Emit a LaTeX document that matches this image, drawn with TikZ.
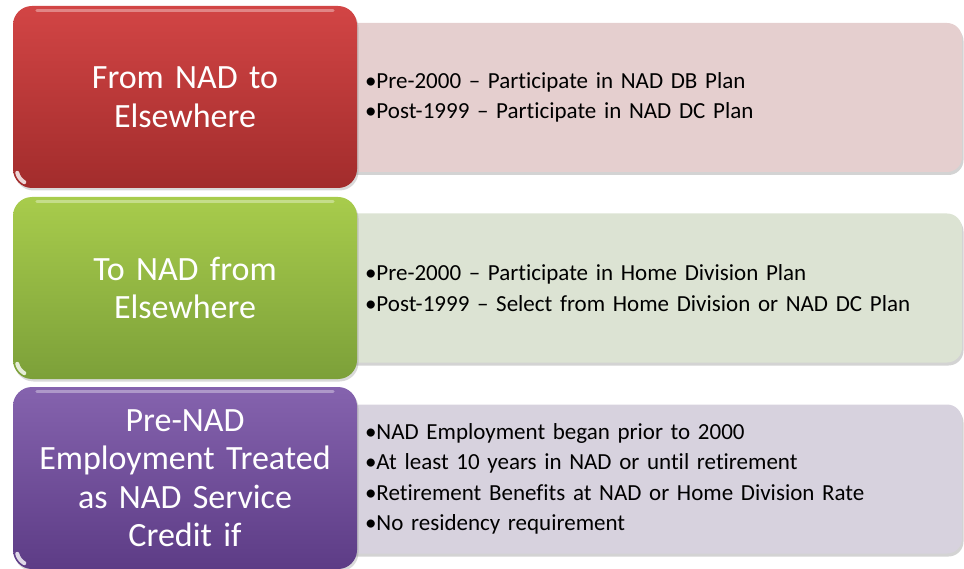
\documentclass[tikz,border=0pt]{standalone}
\usepackage{fontspec}
\setmainfont{Carlito}[Ligatures=NoCommon]
\usetikzlibrary{shadows,calc}
\definecolor{redtop}{HTML}{D24545}
\definecolor{redbot}{HTML}{A22C2C}
\definecolor{grntop}{HTML}{A8CC4C}
\definecolor{grnbot}{HTML}{7CA039}
\definecolor{purtop}{HTML}{8563AE}
\definecolor{purbot}{HTML}{5D3C86}
\definecolor{redlt}{HTML}{E5CFCF}
\definecolor{grnlt}{HTML}{DCE3D3}
\definecolor{purlt}{HTML}{D7D2DE}
\tikzset{
  headbox/.style={rectangle, rounded corners=19pt, minimum width=344pt, minimum height=182pt,
    text width=330pt, align=center, text=white, inner sep=0pt,
    font=\fontsize{34}{38.5}\selectfont,
    drop shadow={shadow xshift=1.5pt, shadow yshift=-2.5pt, opacity=.3}},
  infobox/.style={rectangle, rounded corners=15pt, minimum width=622pt, minimum height=149pt,
    text width=572pt, align=left, inner xsep=25pt, inner ysep=0pt, text=black,
    font=\fontsize{23}{30.5}\selectfont,
    drop shadow={shadow xshift=1.5pt, shadow yshift=-3pt, opacity=.35}},
  gloss/.style={white, opacity=.35, line width=3pt, line cap=round},
  cornergloss/.style={white, opacity=.8, line width=4pt, line cap=round}
}
\begin{document}
\begin{tikzpicture}[x=1pt,y=-1pt]
\useasboundingbox (0,0) rectangle (964,569);
% row 1
\node[infobox, fill=redlt] (r1) at (651,97.5)
  {\textbullet Pre-2000 -- Participate in NAD DB Plan\\
   \textbullet Post-1999 -- Participate in NAD DC Plan};
\node[headbox, top color=redtop, bottom color=redbot] (h1) at (185,97)
  {From NAD to\\Elsewhere};
% row 2
\node[infobox, fill=grnlt] (r2) at (651,288)
  {\textbullet Pre-2000 -- Participate in Home Division Plan\\
   \textbullet Post-1999 -- Select from Home Division or NAD DC Plan};
\node[headbox, top color=grntop, bottom color=grnbot] (h2) at (185,288)
  {To NAD from\\Elsewhere};
% row 3
\node[infobox, fill=purlt] (r3) at (651,479)
  {\textbullet NAD Employment began prior to 2000\\
   \textbullet At least 10 years in NAD or until retirement\\
   \textbullet Retirement Benefits at NAD or Home Division Rate\\
   \textbullet No residency requirement};
\node[headbox, top color=purtop, bottom color=purbot] (h3) at (185,478)
  {Pre-NAD\\Employment Treated\\as NAD Service\\Credit if};
% gloss highlights
\foreach \h in {h1,h2,h3}{
  \draw[gloss] ($(\h.north west)+(24,5)$) -- ($(\h.north east)+(-24,5)$);
  \draw[cornergloss]
    ($(\h.south west)+(19,-19)+(166:15)$) arc[start angle=166, end angle=120, radius=15];
}
\end{tikzpicture}
\end{document}
